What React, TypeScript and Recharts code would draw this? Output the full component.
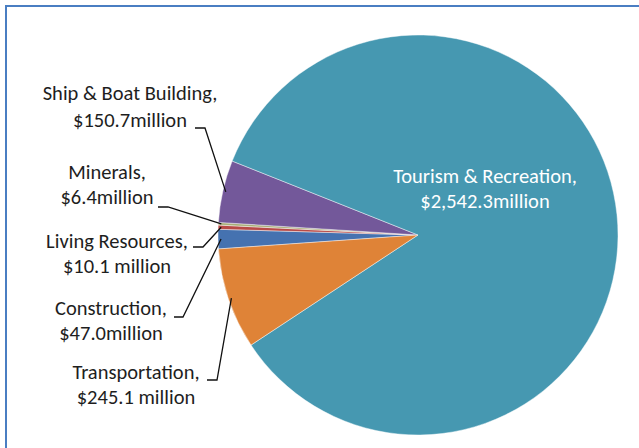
import { PieChart, Pie, Cell } from "recharts";

const categories = [
  "Construction",
  "Living Resources",
  "Minerals",
  "Ship & Boat Building",
  "Tourism & Recreation",
  "Transportation",
];
const values = [47.0, 10.1, 6.4, 150.7, 2542.3, 245.1];
const valueLabels = [
  "$47.0million",
  "$10.1 million",
  "$6.4million",
  "$150.7million",
  "$2,542.3million",
  "$245.1 million",
];

const COLORS = ["#4572B0", "#B84A47", "#A9AE78", "#73589A", "#4698B1", "#DF8337"];

// label placement relative to the pie centre (Excel-style manual positions)
// tx: text centre x, y1/y2: baselines, ex/ey: elbow of the leader, hx: end of the short tick
const LABEL_LAYOUT = [
  { tx: -307, y1: 80, y2: 105, ex: -235, ey: 82, hx: -244 },
  { tx: -301, y1: 13, y2: 38, ex: -215, ey: 12, hx: -225 },
  { tx: -311, y1: -56, y2: -31, ex: -250, ey: -28, hx: -260 },
  { tx: -288, y1: -135, y2: -108, ex: -213, ey: -107, hx: -223 },
  { tx: 67, y1: -52, y2: -27, ex: 0, ey: 0, hx: 0 },
  { tx: -282, y1: 144, y2: 169, ex: -201, ey: 145, hx: -211 },
];

const data = categories.map((name, i) => ({ name, value: values[i], text: valueLabels[i] }));

const FONT = "Calibri, Carlito, Lato, sans-serif";
const RADIAN = Math.PI / 180;

function renderLabel(props: any) {
  const { cx, cy, midAngle, outerRadius, index } = props;
  const l = LABEL_LAYOUT[index];
  const inside = index === 4;
  const fill = inside ? "#ffffff" : "#1e1e1e";
  const sx = cx + (outerRadius - 3) * Math.cos(-midAngle * RADIAN);
  const sy = cy + (outerRadius - 3) * Math.sin(-midAngle * RADIAN);
  return (
    <g key={`lbl-${index}`}>
      {!inside && (
        <polyline
          points={`${sx},${sy} ${cx + l.ex},${cy + l.ey} ${cx + l.hx},${cy + l.ey}`}
          fill="none"
          stroke="#111"
          strokeWidth={1.3}
        />
      )}
      <text x={cx + l.tx} y={cy + l.y1} textAnchor="middle" fill={fill} fontSize={20.5} fontFamily={FONT}>
        {categories[index]},
      </text>
      <text x={cx + l.tx} y={cy + l.y2} textAnchor="middle" fill={fill} fontSize={20.5} fontFamily={FONT}>
        {valueLabels[index]}
      </text>
    </g>
  );
}

export default function App() {
  return (
    <div
      style={{
        position: "absolute",
        left: 0,
        top: 0,
        width: 639,
        height: 448,
        background: "#fff",
        overflow: "hidden",
      }}
    >
      <div
        style={{
          position: "absolute",
          left: 5,
          top: 5,
          width: 700,
          height: 500,
          borderTop: "2px solid #4A7EC2",
          borderLeft: "2px solid #4A7EC2",
        }}
      />
      <div style={{ position: "absolute", left: 0, top: 0 }}>
        <PieChart width={639} height={448}>
          <Pie
            data={data}
            dataKey="value"
            nameKey="name"
            cx={413}
            cy={230}
            outerRadius={200}
            startAngle={184}
            endAngle={-176}
            stroke="rgba(255,255,255,0.55)"
            strokeWidth={0.8}
            label={renderLabel}
            labelLine={false}
            isAnimationActive={false}
          >
            {data.map((entry, i) => (
              <Cell key={`cell-${i}`} fill={COLORS[i]} />
            ))}
          </Pie>
        </PieChart>
      </div>
    </div>
  );
}
